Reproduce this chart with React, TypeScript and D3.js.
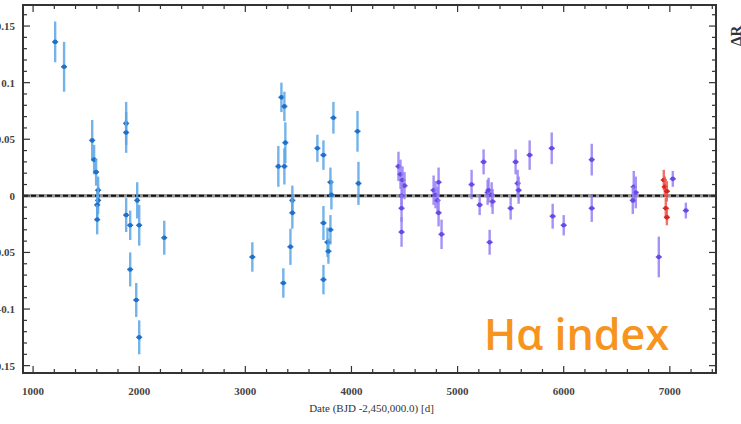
import React from "react";
import * as d3 from "d3";

const W = 741;
const H = 424;

// Blue series (early epochs)
const blueDates = [1208, 1292, 1557, 1575, 1594, 1613, 1613, 1604, 1604, 1877, 1877, 1877, 1915, 1915, 1972, 2000, 2000, 1981, 2236, 3066, 3340, 3368, 3377, 3311, 3368, 3443, 3443, 3425, 3358, 3679, 3736, 3802, 3811, 3736, 3802, 3774, 3783, 3736, 3830, 4057, 4066];
const blueValues = [0.136, 0.114, 0.049, 0.032, 0.021, 0.005, -0.004, -0.008, -0.021, 0.064, 0.056, -0.017, -0.026, -0.065, -0.092, -0.125, -0.026, -0.004, -0.037, -0.054, 0.087, 0.079, 0.047, 0.026, 0.026, -0.004, -0.015, -0.045, -0.077, 0.042, 0.036, 0.012, 0.001, -0.024, -0.030, -0.041, -0.049, -0.074, 0.069, 0.057, 0.011];
const blueErrors = [0.018, 0.022, 0.018, 0.013, 0.012, 0.012, 0.012, 0.012, 0.013, 0.019, 0.018, 0.015, 0.013, 0.015, 0.015, 0.015, 0.018, 0.016, 0.015, 0.013, 0.013, 0.013, 0.018, 0.018, 0.016, 0.013, 0.014, 0.016, 0.013, 0.012, 0.013, 0.013, 0.013, 0.015, 0.013, 0.013, 0.011, 0.013, 0.014, 0.018, 0.019];

// Purple series
const purpleDates = [4443, 4462, 4481, 4500, 4472, 4472, 4472, 4821, 4774, 4792, 4811, 4821, 4849, 5132, 5245, 5208, 5283, 5292, 5321, 5330, 5302, 5500, 5547, 5566, 5575, 5679, 5887, 5896, 6000, 6264, 6264, 6660, 6679, 6651, 6896, 7028, 7151];
const purpleValues = [0.026, 0.019, 0.014, 0.009, 0.0, -0.011, -0.032, 0.012, 0.005, 0.001, -0.004, -0.015, -0.034, 0.010, 0.030, -0.008, 0.003, 0.005, 0.001, -0.005, -0.041, -0.011, 0.030, 0.011, 0.005, 0.036, 0.042, -0.018, -0.026, 0.032, -0.011, 0.008, 0.003, -0.004, -0.054, 0.015, -0.013];
const purpleErrors = [0.013, 0.013, 0.012, 0.012, 0.012, 0.012, 0.013, 0.013, 0.013, 0.012, 0.012, 0.012, 0.013, 0.013, 0.011, 0.009, 0.011, 0.011, 0.011, 0.011, 0.011, 0.010, 0.011, 0.012, 0.012, 0.013, 0.014, 0.011, 0.009, 0.014, 0.012, 0.014, 0.014, 0.012, 0.018, 0.007, 0.007];

// Red series (latest epochs)
const redDates = [6943, 6953, 6972, 6962, 6972];
const redValues = [0.014, 0.008, 0.004, -0.011, -0.019];
const redErrors = [0.009, 0.009, 0.009, 0.009, 0.007];

const xTicks = [1000, 2000, 3000, 4000, 5000, 6000, 7000];
const yTicks = [0.15, 0.1, 0.05, 0, -0.05, -0.1, -0.15];

const xLabel = "Date (BJD -2,450,000.0) [d]";
const yLabel = "ΔR";
const panelLabel = "Hα index";

const left = 23;
const right = 716;
const top = 5;
const bottom = 373;

const x = d3.scaleLinear().domain([905, 7435]).range([left, right]);
const y = d3.scaleLinear().domain([-0.1565, 0.1686]).range([bottom, top]);

const xMinor = d3.range(1000, 7401, 200).filter((v) => v % 1000 !== 0);
const yMinor = d3.range(-15, 17).map((v) => v / 100).filter((v) => Math.abs(Math.round(v * 100) % 5) !== 0);

function Series({ dates, values, errors, bar, dot }: { dates: number[]; values: number[]; errors: number[]; bar: string; dot: string }) {
  return (
    <g>
      {dates.map((d, i) => {
        const cx = x(d);
        const cy = y(values[i]);
        return (
          <g key={i}>
            <line x1={cx} x2={cx} y1={y(values[i] + errors[i])} y2={y(values[i] - errors[i])} stroke={bar} strokeWidth={2.4} opacity={0.85} />
            <line x1={cx - 3} x2={cx + 3} y1={cy} y2={cy} stroke={dot} strokeWidth={1.5} />
            <circle cx={cx} cy={cy} r={2.3} fill={dot} />
          </g>
        );
      })}
    </g>
  );
}

export default function App() {
  const serif = "'Liberation Serif', 'DejaVu Serif', serif";
  return (
    <svg width={W} height={H} style={{ position: "absolute", left: 0, top: 0, background: "#fff" }}>
      <rect x={0} y={0} width={W} height={H} fill="#fff" />
      {/* zero line */}
      <line x1={left} x2={right} y1={y(0)} y2={y(0)} stroke="#9a9a9a" strokeWidth={3.5} />
      <line x1={left} x2={right} y1={y(0)} y2={y(0)} stroke="#111" strokeWidth={2} strokeDasharray="5,3" />

      <Series dates={blueDates} values={blueValues} errors={blueErrors} bar="#5ba6e6" dot="#1f70c8" />
      <Series dates={purpleDates} values={purpleValues} errors={purpleErrors} bar="#9580f5" dot="#6a48e6" />
      <Series dates={redDates} values={redValues} errors={redErrors} bar="#ee5a52" dot="#d9261f" />

      {/* ticks */}
      <g stroke="#333" strokeWidth={1.2}>
        {xTicks.map((t) => (
          <g key={"xt" + t}>
            <line x1={x(t)} x2={x(t)} y1={bottom} y2={bottom - 7} />
            <line x1={x(t)} x2={x(t)} y1={top} y2={top + 7} />
          </g>
        ))}
        {xMinor.map((t) => (
          <g key={"xm" + t}>
            <line x1={x(t)} x2={x(t)} y1={bottom} y2={bottom - 4} />
            <line x1={x(t)} x2={x(t)} y1={top} y2={top + 4} />
          </g>
        ))}
        {yTicks.map((t) => (
          <g key={"yt" + t}>
            <line x1={left} x2={left + 7} y1={y(t)} y2={y(t)} />
            <line x1={right} x2={right - 7} y1={y(t)} y2={y(t)} />
          </g>
        ))}
        {yMinor.map((t) => (
          <g key={"ym" + t}>
            <line x1={left} x2={left + 4} y1={y(t)} y2={y(t)} />
            <line x1={right} x2={right - 4} y1={y(t)} y2={y(t)} />
          </g>
        ))}
      </g>

      {/* frame */}
      <rect x={left} y={top} width={right - left} height={bottom - top} fill="none" stroke="#333" strokeWidth={2} />

      {/* x tick labels */}
      {xTicks.map((t) => (
        <text key={"xl" + t} x={x(t)} y={bottom + 22} textAnchor="middle" fontFamily={serif} fontSize={11} fontWeight="bold" fill="#444">
          {t}
        </text>
      ))}
      {/* y tick labels (clipped at left edge, as in the original crop) */}
      {yTicks.map((t) => (
        <text key={"yl" + t} x={15} y={y(t) + 4} textAnchor="end" fontFamily={serif} fontSize={11} fontWeight="bold" fill="#444">
          {t === 0 ? "0" : String(t)}
        </text>
      ))}

      <text x={(left + right) / 2 + 2} y={412} textAnchor="middle" fontFamily={serif} fontSize={11} fill="#333">
        {xLabel}
      </text>

      <text transform={`translate(741,46) rotate(-90)`} textAnchor="start" fontFamily={serif} fontSize={15} fontWeight="bold" fill="#333">
        {yLabel}
      </text>

      <text x={484} y={350} fontFamily="'Open Sans', sans-serif" fontSize={43} fontWeight={600} fill="#f7941d">
        {panelLabel}
      </text>
    </svg>
  );
}
